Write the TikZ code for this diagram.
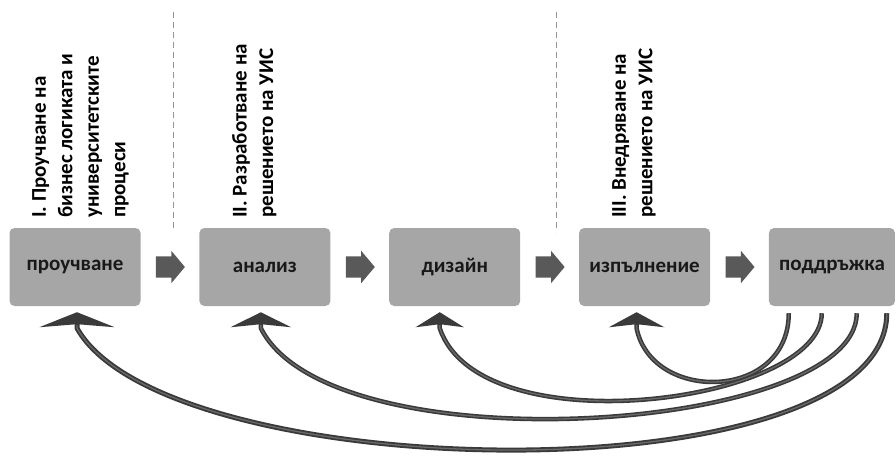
\documentclass[tikz,border=0pt]{standalone}
\usepackage{fontspec}
\setmainfont{Carlito}
\usetikzlibrary{positioning,shapes.arrows,arrows.meta,calc}

\definecolor{boxgray}{HTML}{A6A6A6}
\definecolor{stepgray}{HTML}{595959}
\definecolor{loopgray}{HTML}{3A3A3A}
\definecolor{coregray}{HTML}{6A6A6A}
\definecolor{sepgray}{HTML}{959595}

\tikzset{
    phase/.style={fill=boxgray, rounded corners=5pt, minimum width=131pt,
        minimum height=78pt, inner sep=0pt, text=black!90,
        font=\bfseries\fontsize{21}{24}\selectfont},
    next/.style={single arrow, fill=stepgray, minimum height=29pt,
        inner xsep=0pt, inner ysep=10.5pt, single arrow head extend=5.5pt,
        single arrow tip angle=100},
    stage/.style={rotate=90, anchor=north west, align=left, inner sep=0pt,
        font=\bfseries\fontsize{21}{26.5}\selectfont},
    sep/.style={sepgray, line width=1pt, dash pattern=on 6pt off 4pt},
    back/.style={loopgray, line width=4.5pt, line join=round,
        -{Stealth[width=#1, length=15pt, inset=3pt]},
        postaction={draw=coregray, line width=1.3pt, -, shorten >=13pt}},
}

\begin{document}
\begin{tikzpicture}[x=1pt, y=-1pt]
                \useasboundingbox (0,0) rectangle (896,455);

                % phases
                \node [phase] (s1) at (75,267) {проучване};
                \node [next, right=15pt of s1] (a1) {};
                \node [phase, right=14pt of a1] (s2) {анализ};
                \node [next, right=15pt of s2] (a2) {};
                \node [phase, right=14pt of a2] (s3) {дизайн};
                \node [next, right=15pt of s3] (a3) {};
                \node [phase, right=14pt of a3] (s4) {изпълнение};
                \node [next, right=15pt of s4] (a4) {};
                \node [phase, minimum width=126pt, right=14pt of a4] (s5) {поддръжка};

                % stages
                \node [stage] (t1) at (32,218) {I. Проучване на\\бизнес логиката и\\университетските\\процеси};
                \node [stage] (t2) at (232,218) {II. Разработване на\\решението на УИС};
                \node [stage] (t3) at (612,218) {III. Внедряване на\\решението на УИС};
                \draw [sep] (173,12) -- (173,228);
                \draw [sep] (556,12) -- (556,232);

                % feedback
                \coordinate (o4) at ($(s5.south west)+(20,7)$);
                \coordinate (o3) at ($(s5.south west)+(53,7)$);
                \coordinate (o2) at ($(s5.south west)+(88,7)$);
                \coordinate (o1) at ($(s5.south west)+(118,7)$);
                \coordinate (i4) at ($(s4.south)+(-8,6)$);
                \coordinate (i3) at ($(s3.south)+(-15,6)$);
                \coordinate (i2) at ($(s2.south)+(-4,6)$);
                \coordinate (i1) at ($(s1.south)+(2,6)$);
                \coordinate (j4) at ($(i4)+(0,16)$);
                \coordinate (j3) at ($(i3)+(0,16)$);
                \coordinate (j2) at ($(i2)+(0,16)$);
                \coordinate (j1) at ($(i1)+(0,16)$);
                \draw [back=55pt] (o4) .. controls ($(o4)+(0,88)$) and ($(j4)+(15,75)$) .. (j4) -- (i4);
                \draw [back=48pt] (o3) .. controls ($(o3)+(0,90)$) and ($(j3)+(40,120)$) .. (j3) -- (i3);
                \draw [back=60pt] (o2) .. controls ($(o2)+(0,120)$) and ($(j2)+(70,140)$) .. (j2) -- (i2);
                \draw [back=75pt, line width=5pt] (o1) .. controls ($(o1)+(0,185)$) and ($(j1)+(90,160)$) .. (j1) -- (i1);
            \end{tikzpicture}
\end{document}
